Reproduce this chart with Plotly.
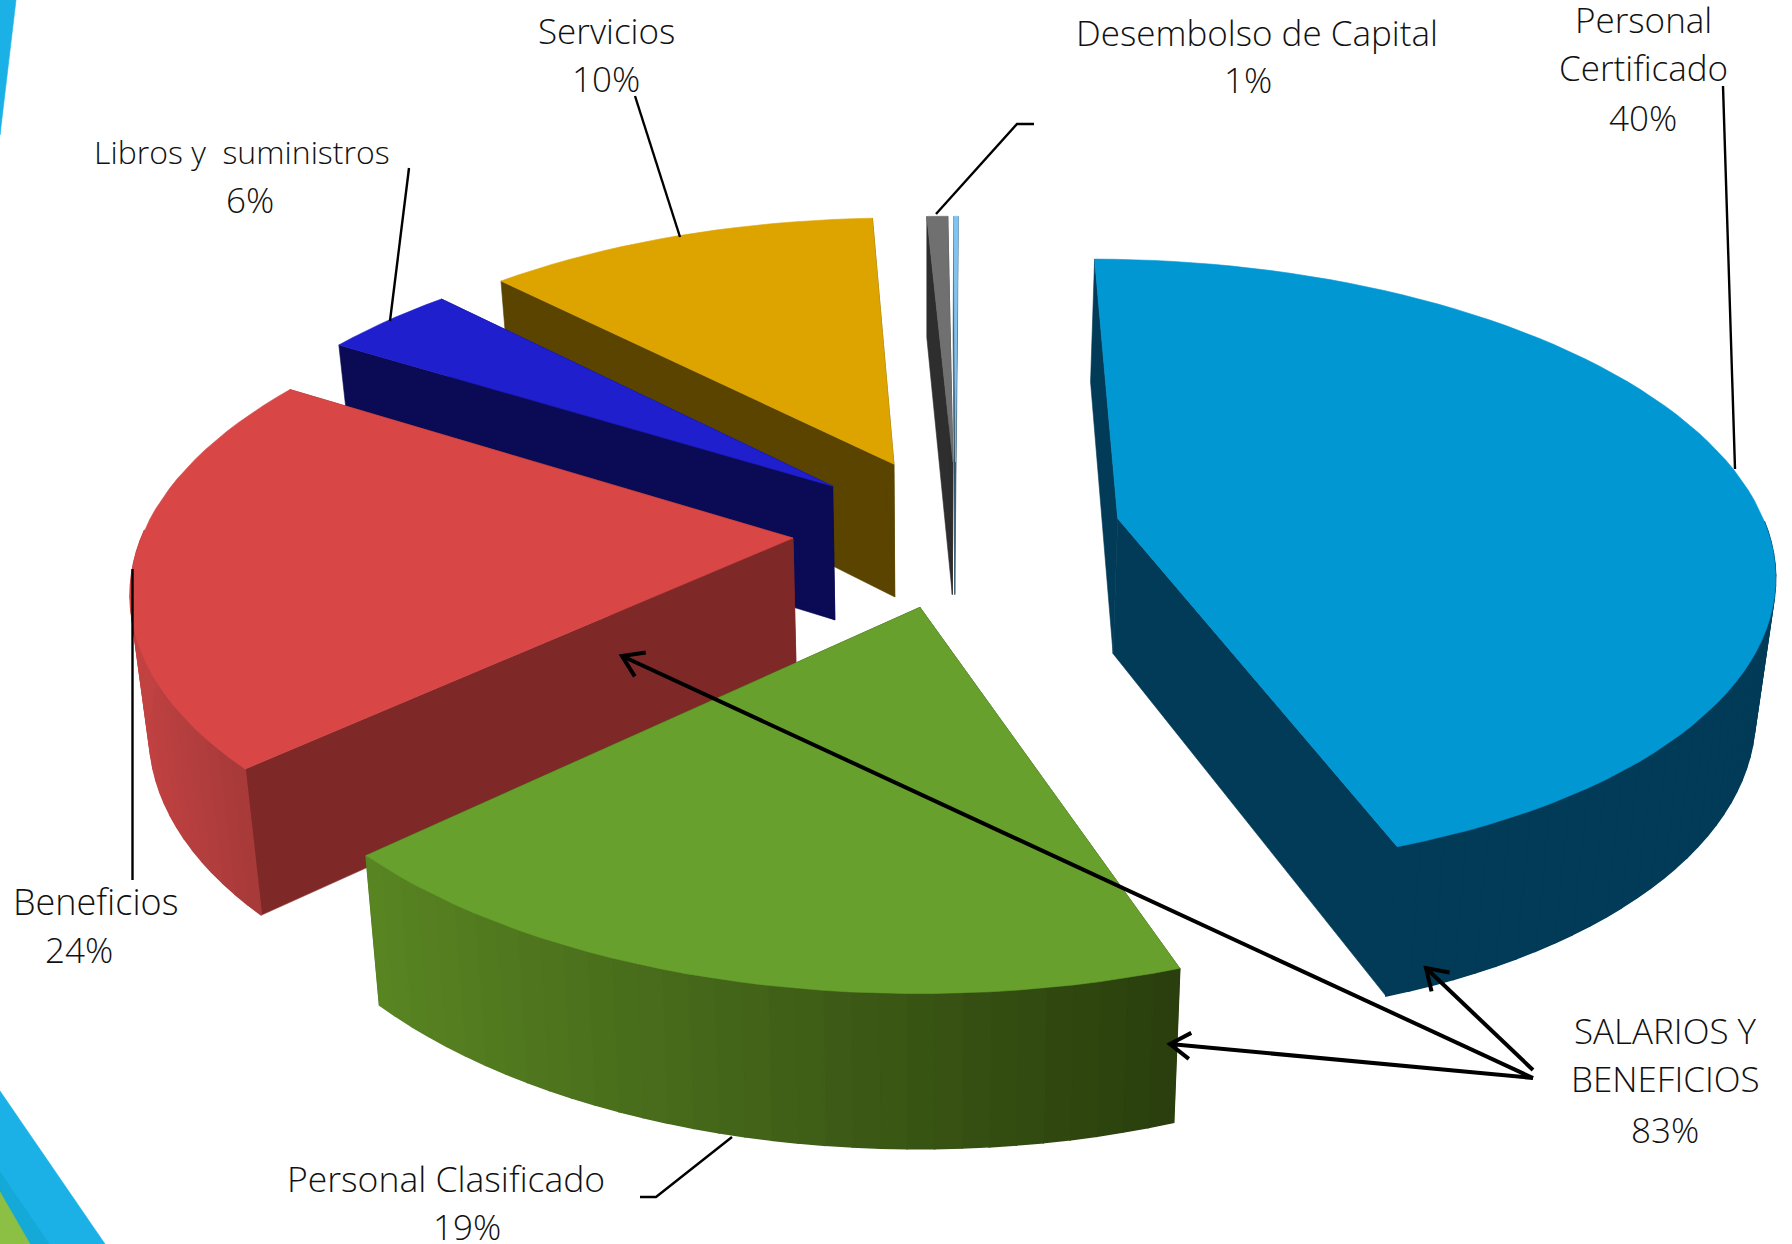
import math
import plotly.graph_objects as go

# ---- data ----
categories = ["Personal Certificado", "Personal Clasificado", "Beneficios",
              "Libros y  suministros", "Servicios", "Desembolso de Capital", "Otros"]
label_percent = [40, 19, 24, 6, 10, 1, 0]
# wedge sizes as actually drawn in the picture (percent of the circle)
drawn_share = [44.6, 18.43, 20.75, 3.89, 11.53, 0.61, 0.13]
group_label = ["SALARIOS Y", "BENEFICIOS"]
group_percent = 83

# ---- style ----
top_colors = ["#0097D3", "#67A02C", "#D84646", "#1F1FCE", "#DDA400", "#707070", "#7FC4F0"]
cut_colors = ["#013B57", "#2B400E", "#7F2828", "#0A0A55", "#5A4400", "#2E2E2E", "#35566C"]
rim_left = ["#013B57", "#588422", "#C24242", "#0A0A55", "#5A4400", "#2E2E2E", "#35566C"]
rim_right = ["#013B57", "#2A3F0D", "#A83A3A", "#0A0A55", "#5A4400", "#2E2E2E", "#35566C"]
pull_x = [0.297, -0.009, -0.204, -0.147, -0.051, 0.043, 0.047]
pull_z = [0.015, 0.300, 0.080, -0.095, -0.172, -0.180, -0.180]
gap_after = [0, 0, 0, 0, 0.3, 0.4, 0]
start_angle = 0.2
CX, CY, RX, RY, K, DEPTH, TAPER = 926, 514, 644, 297, 0.15, 135, 0.024
DEPTH_K = 0.10
FONT = "Open Sans"


def project(x, z, h=0.0):
    w = 1 - K * z
    return CX + RX * x / w * (1 - TAPER * h), CY + RY * z / w + DEPTH * h / (1 - DEPTH_K * z)


def hexmix(a, b, t):
    ca = [int(a[i:i + 2], 16) for i in (1, 3, 5)]
    cb = [int(b[i:i + 2], 16) for i in (1, 3, 5)]
    return "#%02X%02X%02X" % tuple(round(p + (q - p) * t) for p, q in zip(ca, cb))


fig = go.Figure()


def poly(points, color, lw=0.6):
    xs = [p[0] for p in points] + [points[0][0]]
    ys = [p[1] for p in points] + [points[0][1]]
    fig.add_trace(go.Scatter(x=xs, y=ys, mode="lines", fill="toself", fillcolor=color,
                             line=dict(color=color, width=lw), hoverinfo="skip", showlegend=False))


def polyline(points, width=2.4, color="#000000"):
    fig.add_trace(go.Scatter(x=[p[0] for p in points], y=[p[1] for p in points], mode="lines",
                             line=dict(color=color, width=width), hoverinfo="skip", showlegend=False))


# background decoration
poly([(0, 0), (16, 0), (0, 135)], "#1BB1E7")
poly([(0, 1091), (105, 1244), (0, 1244)], "#1BB1E7")
poly([(0, 1172), (49, 1244), (0, 1244)], "#14A9D6")
poly([(0, 1192), (30, 1244), (0, 1244)], "#8CC045")

# wedge angle ranges from the drawn shares
angles = []
a = start_angle
for s, g in zip(drawn_share, gap_after):
    angles.append((a, a + s * 3.6))
    a += s * 3.6 + g

draw_order = [4, 5, 6, 3, 2, 1, 0]
for i in draw_order:
    a0, a1 = angles[i]
    px, pz = pull_x[i], pull_z[i]
    n = max(4, int((a1 - a0) / 2))
    ts = [a0 + (a1 - a0) * j / n for j in range(n + 1)]
    rim = [(px + math.sin(math.radians(t)), pz - math.cos(math.radians(t))) for t in ts]
    # cut faces
    for e in (rim[0], rim[-1]):
        poly([project(px, pz), project(*e), project(*e, 1), project(px, pz, 1)], cut_colors[i])
    # rim with a horizontal gradient, only the side facing the viewer
    visible = [j for j in range(n) if 90 <= (ts[j] % 360) <= 270]
    xs_all = [project(*rim[j])[0] for j in visible] or [0]
    lo, hi = min(xs_all), max(xs_all)
    for j in visible:
        t = (project(*rim[j])[0] - lo) / max(hi - lo, 1)
        poly([project(*rim[j]), project(*rim[j + 1]), project(*rim[j + 1], 1), project(*rim[j], 1)],
             hexmix(rim_left[i], rim_right[i], t), 1.5)
    # top face
    poly([project(px, pz)] + [project(*r) for r in rim], top_colors[i])

# leader lines
polyline([(635, 96), (680, 237)])
polyline([(409, 168), (390, 321)])
polyline([(1034, 124), (1017, 124), (936, 214)])
polyline([(1723, 86), (1735, 469)])
polyline([(132.5, 569), (132.5, 880)])
polyline([(640, 1197), (656, 1197), (732, 1137)])


# arrows to the three salary slices
def arrow(start, tip, size=24, spread=33):
    polyline([start, tip], 4)
    ang = math.atan2(start[1] - tip[1], start[0] - tip[0])
    pts = []
    for sgn in (-1, 1):
        b = ang + sgn * math.radians(spread)
        pts.append((tip[0] + size * math.cos(b), tip[1] + size * math.sin(b)))
    polyline([pts[0], tip, pts[1]], 4)


arrow((1533, 1070), (1426, 968))
arrow((1533, 1078), (1170, 1044))
arrow((1533, 1078), (622, 656))

# labels: (text, x, y, size)
texts = [
    ("Servicios", 606, 30, 35), (f"{label_percent[4]}%", 606, 78, 35),
    ("Libros y  suministros", 242, 151, 32), (f"{label_percent[3]}%", 250, 199, 35),
    ("Desembolso de Capital", 1257, 32, 35), (f"{label_percent[5]}%", 1248, 79, 35),
    ("Personal", 1643, 19, 35), ("Certificado", 1643, 67, 35), (f"{label_percent[0]}%", 1643, 117, 35),
    ("Beneficios", 95, 901, 36), (f"{label_percent[2]}%", 79, 949, 35),
    ("Personal Clasificado", 446, 1178, 35.5), (f"{label_percent[1]}%", 467, 1226, 35),
    (group_label[0], 1665, 1030, 35), (group_label[1], 1665, 1078, 35), (f"{group_percent}%", 1665, 1129, 35),
]
for s, x, y, size in texts:
    fig.add_annotation(x=x, y=y, xref="x", yref="y", text=s.replace("  ", "\u00a0 "), showarrow=False,
                       xanchor="center", yanchor="middle",
                       font=dict(family=FONT, size=size, color="#111111", weight=300))

fig.update_layout(width=1792, height=1244, margin=dict(l=0, r=0, t=0, b=0),
                  paper_bgcolor="white", plot_bgcolor="white", showlegend=False,
                  xaxis=dict(range=[0, 1792], visible=False, fixedrange=True),
                  yaxis=dict(range=[1244, 0], visible=False, fixedrange=True))
fig.write_html("out.html", post_script="document.body.style.margin='0';document.body.style.overflow='hidden';",
               config={"displayModeBar": False})
